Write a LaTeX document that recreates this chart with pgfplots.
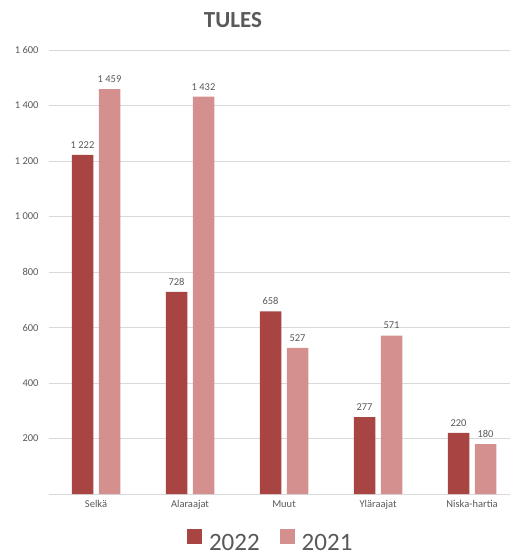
\documentclass[border=0pt]{standalone}
\usepackage{pgfplots}
\pgfplotsset{compat=1.18}
\usepackage{fontspec}
\setmainfont{Carlito}
\definecolor{bardark}{HTML}{A84543}
\definecolor{barlight}{HTML}{D4908F}
\definecolor{txtgray}{HTML}{595959}
\definecolor{gridgray}{HTML}{D9D9D9}
\begin{document}
\begin{tikzpicture}
\useasboundingbox (0,0) rectangle (510bp,-556bp);
\begin{axis}[
  at={(49bp,-494bp)}, anchor=south west,
  scale only axis, width=461bp, height=444bp,
  xmin=-0.5, xmax=4.404, ymin=0, ymax=1600,
  clip=false,
  axis x line*=bottom, axis y line*=left,
  x axis line style={draw=gridgray, line width=0.8bp},
  y axis line style={draw=none},
  ytick={200,400,...,1600},
  ymajorgrids, grid style={draw=gridgray, line width=0.8bp},
  major tick length=0pt,
  xtick={0,1,2,3,4},
  xticklabels={Selkä,Alaraajat,Muut,Yläraajat,Niska-hartia},
  /pgf/number format/assume math mode=true,
  /pgf/number format/1000 sep={\ },
  tick label style={font=\fontsize{10.5bp}{12bp}\selectfont, text=txtgray},
  yticklabel style={anchor=east, xshift=-7bp},
  xticklabel style={yshift=-3bp},
  title={\textbf{TULES}},
  title style={font=\fontsize{23bp}{27bp}\selectfont, text=txtgray,
    at={(axis description cs:0.3991,1.0540)}, anchor=center},
  ybar, bar width=21.5bp,
  nodes near coords,
  every node near coord/.append style={font=\fontsize{10.5bp}{12bp}\selectfont, text=txtgray, yshift=3bp},
  legend columns=2,
  legend style={draw=none, fill=none, at={(axis description cs:0.481,-0.107)}, anchor=center,
    font=\fontsize{25bp}{30bp}\selectfont, text=txtgray, inner sep=1bp,
    /tikz/every odd column/.append style={column sep=5bp},
    /tikz/every even column/.append style={column sep=18bp}},
  legend image code/.code={\fill[#1] (0bp,-1bp) rectangle (15bp,14bp);},
]
\addplot[fill=bardark, draw=none, bar shift=-13.5bp] coordinates {(0,1222) (1,728) (2,658) (3,277) (4,220)};
\addplot[fill=barlight, draw=none, bar shift=13.5bp] coordinates {(0,1459) (1,1432) (2,527) (3,571) (4,180)};
\legend{2022,2021}
\end{axis}
\end{tikzpicture}
\end{document}
